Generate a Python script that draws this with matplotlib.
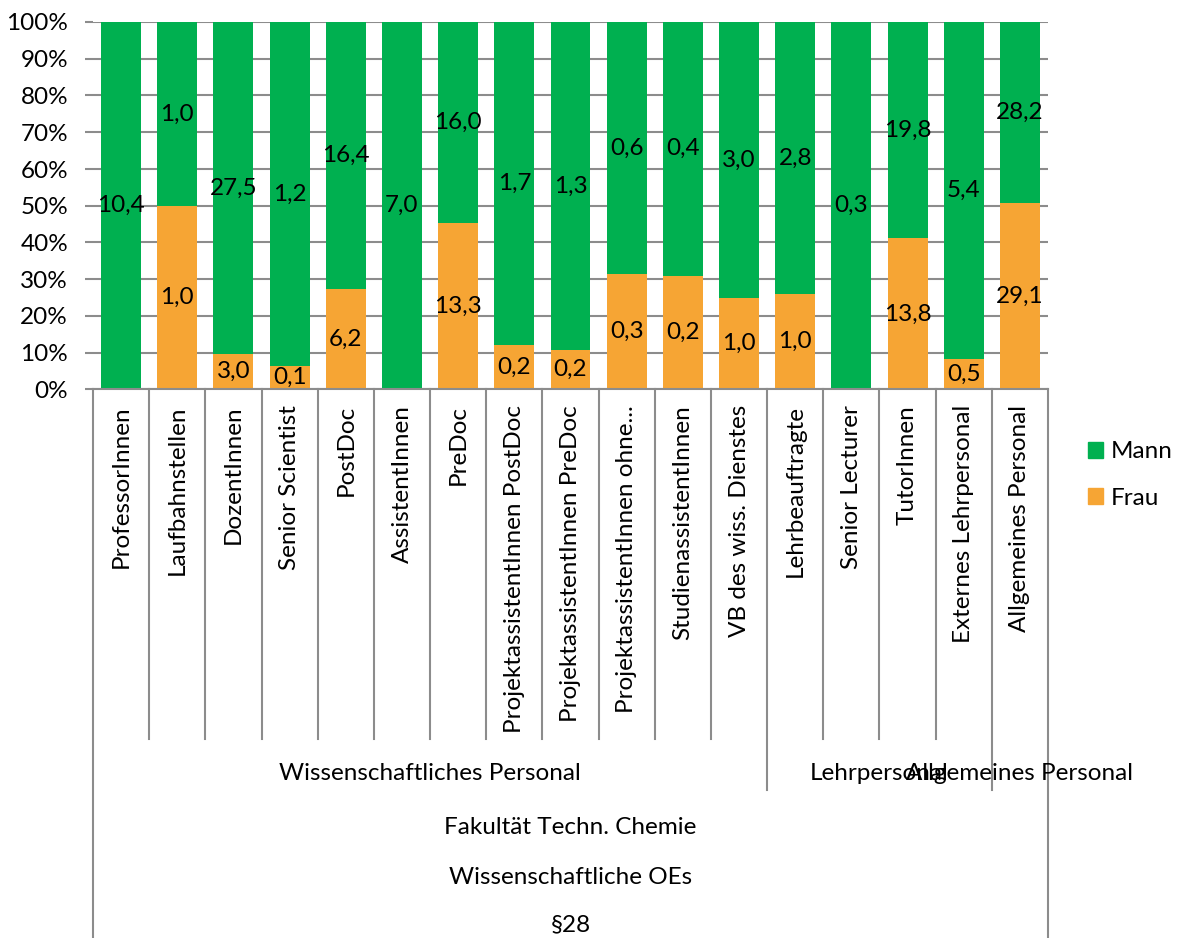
import matplotlib
matplotlib.use("Agg")
import matplotlib.pyplot as plt
import matplotlib.transforms as mtransforms
from matplotlib.lines import Line2D
from matplotlib.patches import Patch
import numpy as np

plt.rcParams['font.family'] = ['Lato', 'DejaVu Sans']

# Personalkategorien (unterste Achsenebene)
categories = [
    "ProfessorInnen", "Laufbahnstellen", "DozentInnen", "Senior Scientist",
    "PostDoc", "AssistentInnen", "PreDoc", "ProjektassistentInnen PostDoc",
    "ProjektassistentInnen PreDoc", "ProjektassistentInnen ohne...",
    "StudienassistentInnen", "VB des wiss. Dienstes", "Lehrbeauftragte",
    "Senior Lecturer", "TutorInnen", "Externes Lehrpersonal",
    "Allgemeines Personal",
]

# Gruppen der zweiten Ebene: (Name, erste Kategorie, letzte Kategorie)
groups = [
    ("Wissenschaftliches Personal", 0, 11),
    ("Lehrpersonal", 12, 15),
    ("Allgemeines Personal", 16, 16),
]
outer_levels = ["Fakultät Techn. Chemie", "Wissenschaftliche OEs", "§28"]

# Anteil Frauen in %
frau_pct = [0.0, 50.0, 9.7, 6.4, 27.3, 0.0, 45.4, 12.1, 10.7, 31.4,
            31.0, 24.9, 26.0, 0.0, 41.1, 8.3, 50.8]

# Vollzeitäquivalente (Beschriftung der Segmente)
frau_vzae = [None, 1.0, 3.0, 0.1, 6.2, None, 13.3, 0.2, 0.2, 0.3,
             0.2, 1.0, 1.0, None, 13.8, 0.5, 29.1]
mann_vzae = [10.4, 1.0, 27.5, 1.2, 16.4, 7.0, 16.0, 1.7, 1.3, 0.6,
             0.4, 3.0, 2.8, 0.3, 19.8, 5.4, 28.2]

GREEN = "#00B050"
ORANGE = "#F6A534"
GRID = "#8C8C8C"
FS = 17.5

W, H = 1181, 938
fig = plt.figure(figsize=(W / 100, H / 100), dpi=100)
ax_left, ax_right, ax_top, ax_bottom = 93, 1048, 22, 389.5
ax = fig.add_axes([ax_left / W, 1 - ax_bottom / H,
                   (ax_right - ax_left) / W, (ax_bottom - ax_top) / H])

x = np.arange(len(categories))
frau = np.array(frau_pct)
mann = 100 - frau
ax.bar(x, frau, width=0.71, color=ORANGE, label="Frau", zorder=3)
ax.bar(x, mann, width=0.71, bottom=frau, color=GREEN, label="Mann", zorder=3)

# Werte in der Mitte der Segmente
for i in range(len(categories)):
    if frau_vzae[i] is not None:
        ax.text(x[i], frau[i] / 2, f"{frau_vzae[i]:.1f}".replace(".", ","),
                ha="center", va="center", fontsize=FS, zorder=4)
    if mann_vzae[i] is not None:
        ax.text(x[i], frau[i] + mann[i] / 2, f"{mann_vzae[i]:.1f}".replace(".", ","),
                ha="center", va="center", fontsize=FS, zorder=4)

ax.set_xlim(-0.5, len(categories) - 0.5)
ax.set_ylim(0, 100)
ax.set_yticks(np.arange(0, 101, 10))
ax.set_yticklabels([f"{v}%" for v in range(0, 101, 10)], fontsize=FS)
ax.yaxis.grid(True, color=GRID, linewidth=1.5, zorder=0)
ax.tick_params(axis="y", length=6, width=1.5, color=GRID, pad=12)
ax.set_xticks([])
for side in ["top", "right", "left"]:
    ax.spines[side].set_visible(False)
ax.spines["bottom"].set_color(GRID)
ax.spines["bottom"].set_linewidth(1.5)
ax.spines["bottom"].set_zorder(5)

# mehrstufige Kategorienachse
trans = mtransforms.blended_transform_factory(ax.transData, fig.transFigure)

def fy(px):
    return 1 - px / H

group_edges = {g[1] - 0.5 for g in groups[1:]}
for k in range(len(categories) + 1):
    xb = k - 0.5
    if k == 0 or k == len(categories):
        y_end = H
    elif xb in group_edges:
        y_end = 790
    else:
        y_end = 739
    fig.add_artist(Line2D([xb, xb], [fy(ax_bottom), fy(y_end)], transform=trans,
                          color=GRID, linewidth=1.5))

for i, name in enumerate(categories):
    fig.text(x[i], fy(405), name, transform=trans, rotation=90,
             ha="center", va="top", fontsize=FS)

for name, a, b in groups:
    fig.text((a + b) / 2, fy(773), name, transform=trans,
             ha="center", va="center", fontsize=FS)

mid = (len(categories) - 1) / 2
for name, ypx in zip(outer_levels, [827, 877, 925]):
    fig.text(mid, fy(ypx), name, transform=trans,
             ha="center", va="center", fontsize=FS)

handles = [Patch(color=GREEN, label="Mann"), Patch(color=ORANGE, label="Frau")]
fig.legend(handles=handles, loc="center left",
           bbox_to_anchor=(1088 / W, fy(475)), frameon=False, fontsize=FS,
           borderaxespad=0, borderpad=0,
           handlelength=0.62, handleheight=0.62, handletextpad=0.3,
           labelspacing=1.05)

fig.savefig("out.png", dpi=100)
